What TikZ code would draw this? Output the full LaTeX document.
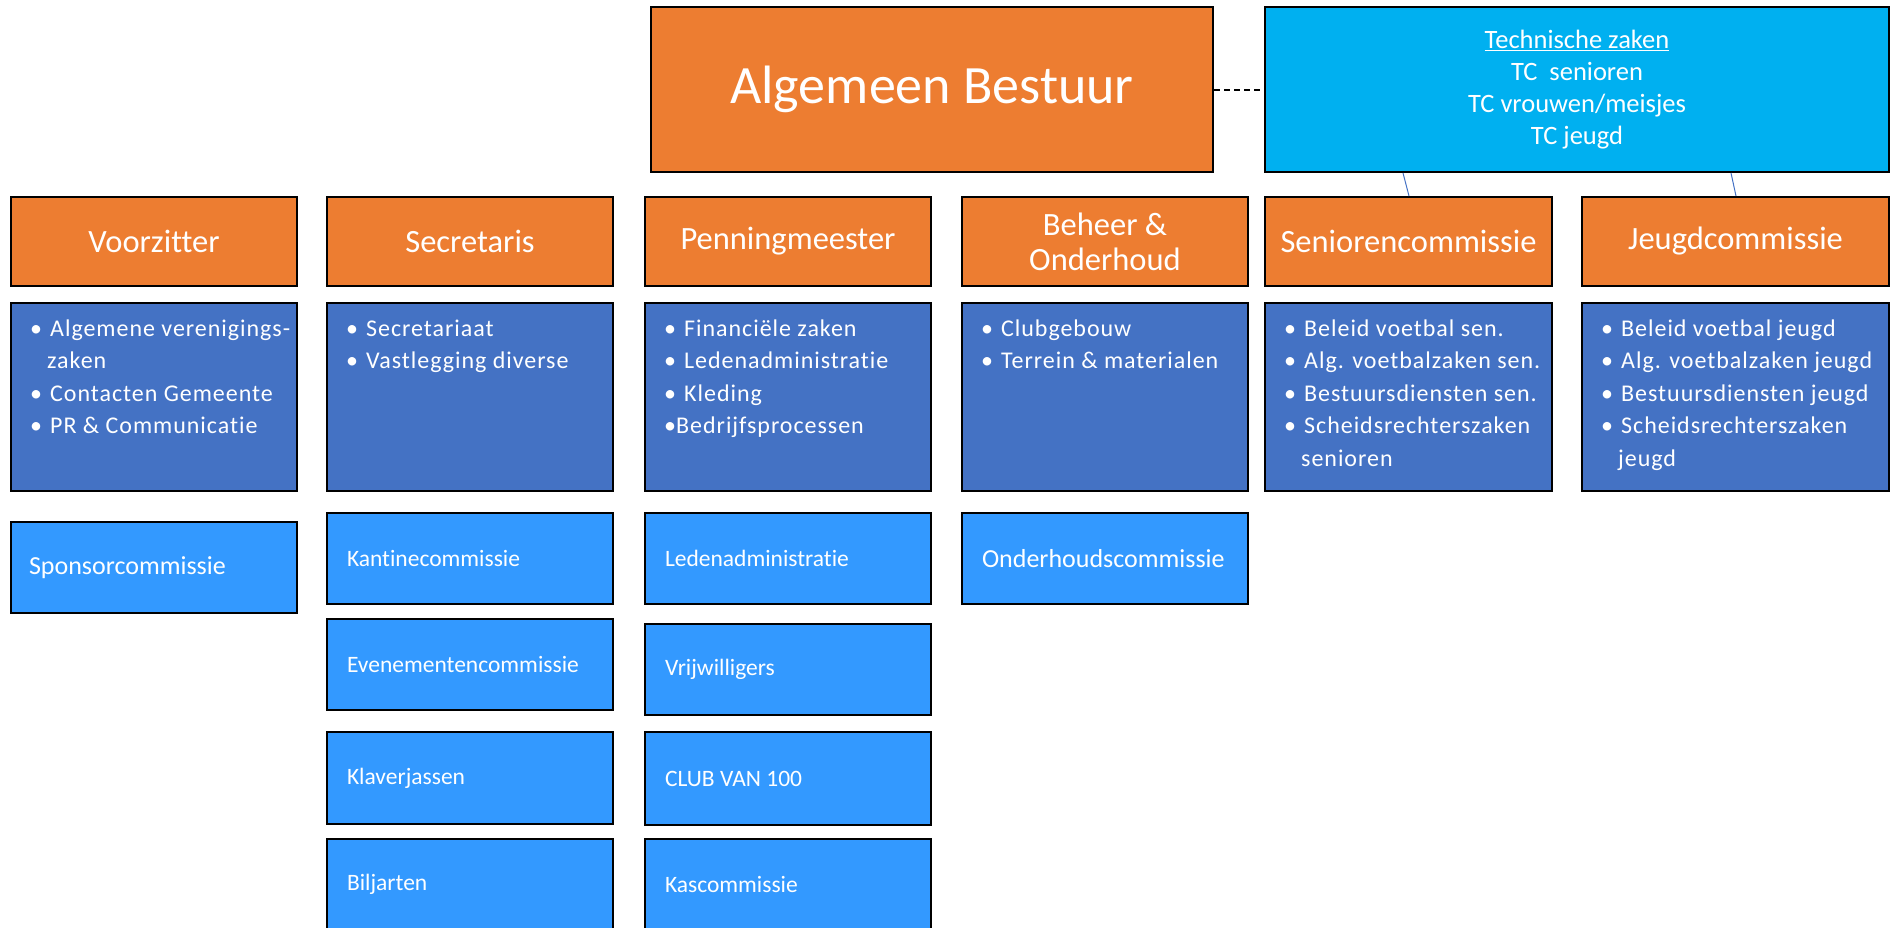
\documentclass[tikz,border=0pt]{standalone}
\usepackage{fontspec}
\setmainfont{Carlito}[Ligatures=NoCommon]
\newfontfamily\lstfont{Carlito}[Ligatures=NoCommon,LetterSpace=4]
\definecolor{orgC}{HTML}{ED7D31}
\definecolor{dblC}{HTML}{4472C4}
\definecolor{tcC}{HTML}{00B0F0}
\definecolor{lbC}{HTML}{3399FF}
\newcommand\bit[1]{\makebox[20pt][l]{•}#1\\}
\newcommand\cont[1]{\hspace*{17pt}#1\\}
\begin{document}
\begin{tikzpicture}[x=1pt,y=-1pt,
  boxbase/.style={draw=black,line width=2pt,inner sep=0pt,text=white},
  hdr/.style={boxbase,fill=orgC,minimum width=286,minimum height=89,align=center,font=\fontsize{32.5}{35}\selectfont},
  lstbox/.style={boxbase,fill=dblC,minimum width=286,minimum height=188},
  lsttxt/.style={anchor=base west,inner sep=0pt,text=white,text width=275pt,align=flush left,font=\lstfont\fontsize{24}{32.6}\selectfont},
  com/.style={boxbase,fill=lbC,minimum width=286,minimum height=91,inner xsep=20pt,text width=246pt,align=flush left,font=\fontsize{23.5}{28}\selectfont},
  conn/.style={draw=dblC,line width=1pt},
  dashconn/.style={draw=black,line width=2pt,dash pattern=on 6pt off 4pt}
]
\useasboundingbox (0,0) rectangle (1891,927);
\clip (0,0) rectangle (1891,927);

% top
\node[boxbase,fill=orgC,minimum width=562,minimum height=165,font=\fontsize{54}{60}\selectfont] (ab) at (932,89.5) {Algemeen Bestuur};
\node[boxbase,fill=tcC,minimum width=624,minimum height=165,align=center,font=\fontsize{26.5}{31.8}\selectfont] (tc) at (1577,89.5) {\underline{Technische zaken}\\TC~ senioren\\TC vrouwen/meisjes\\TC jeugd};

% headers
\node[hdr] (vz) at (154,241.5) {Voorzitter};
\node[hdr] (sc) at (470,241.5) {Secretaris};
\node[hdr] (pm) at (788,241.5) {Penningmeester};
\node[hdr] (bo) at (1105,241.5) {Beheer \&\\Onderhoud};
\node[hdr,minimum width=287] (sen) at (1408.5,241.5) {Seniorencommissie};
\node[hdr,minimum width=307] (jc) at (1735.5,241.5) {Jeugdcommissie};

% connectors
\draw[dashconn] (ab.east) -- (tc.west);
\coordinate (ta) at (1403,0);
\coordinate (tb) at (1409,0);
\coordinate (tcc) at (1731,0);
\coordinate (td) at (1736,0);
\draw[conn] (tc.south -| ta) -- (sen.north -| tb);
\draw[conn] (tc.south -| tcc) -- (jc.north -| td);

% list boxes
\node[lstbox] (vzl) at (154,397) {};
\node[lstbox] (scl) at (470,397) {};
\node[lstbox] (pml) at (788,397) {};
\node[lstbox] (bol) at (1105,397) {};
\node[lstbox,minimum width=287] (senl) at (1408.5,397) {};
\node[lstbox,minimum width=307] (jcl) at (1735.5,397) {};

\node[lsttxt] (vzt) at ([xshift=20pt,yshift=-34pt]vzl.north west) {\bit{Algemene verenigings-}\cont{zaken}\bit{Contacten Gemeente}\bit{PR \& Communicatie}};
\node[lsttxt] (sct) at ([xshift=20pt,yshift=-34pt]scl.north west) {\bit{Secretariaat}\bit{Vastlegging diverse}};
\node[lsttxt] (pmt) at ([xshift=20pt,yshift=-34pt]pml.north west) {\bit{Financiële zaken}\bit{Ledenadministratie}\bit{Kleding}\makebox[12pt][l]{•}Bedrijfsprocessen};
\node[lsttxt] (bot) at ([xshift=20pt,yshift=-34pt]bol.north west) {\bit{Clubgebouw}\bit{Terrein \& materialen}};
\node[lsttxt] (sent) at ([xshift=20pt,yshift=-34pt]senl.north west) {\bit{Beleid voetbal sen.}\bit{Alg. voetbalzaken sen.}\bit{Bestuursdiensten sen.}\bit{Scheidsrechterszaken}\cont{senioren}};
\node[lsttxt] (jct) at ([xshift=20pt,yshift=-34pt]jcl.north west) {\bit{Beleid voetbal jeugd}\bit{Alg. voetbalzaken jeugd}\bit{Bestuursdiensten jeugd}\bit{Scheidsrechterszaken}\cont{jeugd}};

% commissions
\node[com,inner xsep=18pt,text width=250pt,font=\fontsize{26}{30}\selectfont] (spc) at (154,567.5) {Sponsorcommissie};
\node[com] (kc) at (470,558.5) {Kantinecommissie};
\node[com] (ec) at (470,664.5) {Evenementencommissie};
\node[com,minimum height=92] (kj) at (470,778) {Klaverjassen};
\node[com] (bj) at (470,884) {Biljarten};
\node[com] (la) at (788,558.5) {Ledenadministratie};
\node[com] (vw) at (788,669) {Vrijwilligers};
\node[com,minimum height=93] (cv) at (788,778.5) {CLUB VAN 100};
\node[com] (ksc) at (788,884) {Kascommissie};
\node[com,inner xsep=20pt,font=\fontsize{26}{30}\selectfont] (ohc) at (1105,558.5) {Onderhoudscommissie};
\end{tikzpicture}
\end{document}
